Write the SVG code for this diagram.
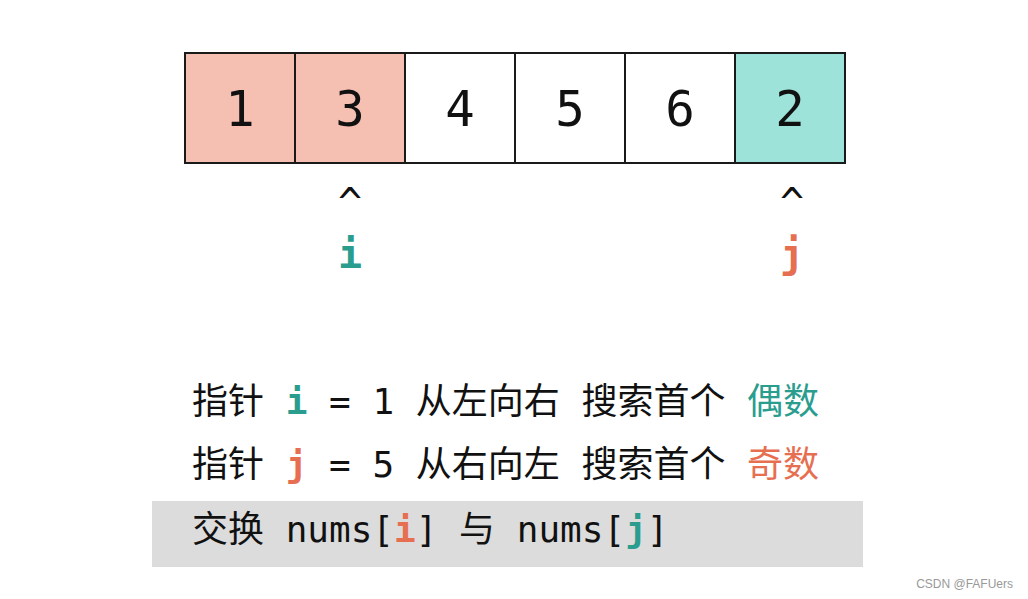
<svg xmlns="http://www.w3.org/2000/svg" width="1028" height="599" viewBox="0 0 1028 599">
<style>
.cell{stroke:#1a1a1a;stroke-width:2}
.num{font-family:"DejaVu Sans Mono","Liberation Mono",monospace;font-size:49px;fill:#111;text-anchor:middle}
.mono{font-family:"DejaVu Sans Mono","Noto Sans CJK SC",monospace;font-size:36px;fill:#111}
.b{font-weight:bold}
.teal{fill:#2A9D8F}
.orng{fill:#E76F51}
.ptr{font-family:"DejaVu Sans Mono",monospace;font-size:40px;text-anchor:middle}
</style>
<rect width="1028" height="599" fill="#ffffff"/>
<g id="array">
<g id="cell0"><rect class="cell" x="185" y="53" width="110" height="110" fill="#F5C0B2"/><text class="num" x="240" y="126">1</text></g>
<g id="cell1"><rect class="cell" x="295" y="53" width="110" height="110" fill="#F5C0B2"/><text class="num" x="350" y="126">3</text></g>
<g id="cell2"><rect class="cell" x="405" y="53" width="110" height="110" fill="#ffffff"/><text class="num" x="460" y="126">4</text></g>
<g id="cell3"><rect class="cell" x="515" y="53" width="110" height="110" fill="#ffffff"/><text class="num" x="570" y="126">5</text></g>
<g id="cell4"><rect class="cell" x="625" y="53" width="110" height="110" fill="#ffffff"/><text class="num" x="680" y="126">6</text></g>
<g id="cell5"><rect class="cell" x="735" y="53" width="110" height="110" fill="#9DE3DA"/><text class="num" x="790" y="126">2</text></g>
</g>
<g id="pointer-i">
<text class="ptr" x="350" y="217" fill="#111">^</text>
<text class="ptr b teal" x="350" y="268">i</text>
</g>
<g id="pointer-j">
<text class="ptr" x="792" y="217" fill="#111">^</text>
<text class="ptr b orng" x="792" y="268">j</text>
</g>
<g id="connectors"></g>
<g id="caption">
<rect x="152" y="501" width="711" height="66" fill="#DCDCDC"/>
<text class="mono" x="192" y="414" xml:space="preserve">指针 <tspan class="b teal">i</tspan> = 1 从左向右 搜索首个 <tspan class="teal">偶数</tspan></text>
<text class="mono" x="192" y="477" xml:space="preserve">指针 <tspan class="b orng">j</tspan> = 5 从右向左 搜索首个 <tspan class="orng">奇数</tspan></text>
<text class="mono" x="192" y="542" xml:space="preserve">交换 nums[<tspan class="b orng">i</tspan>] 与 nums[<tspan class="b teal">j</tspan>]</text>
</g>
<text x="1013" y="588" font-family="Liberation Sans, Arial, sans-serif" font-size="12" fill="#999999" text-anchor="end">CSDN @FAFUers</text>
</svg>
